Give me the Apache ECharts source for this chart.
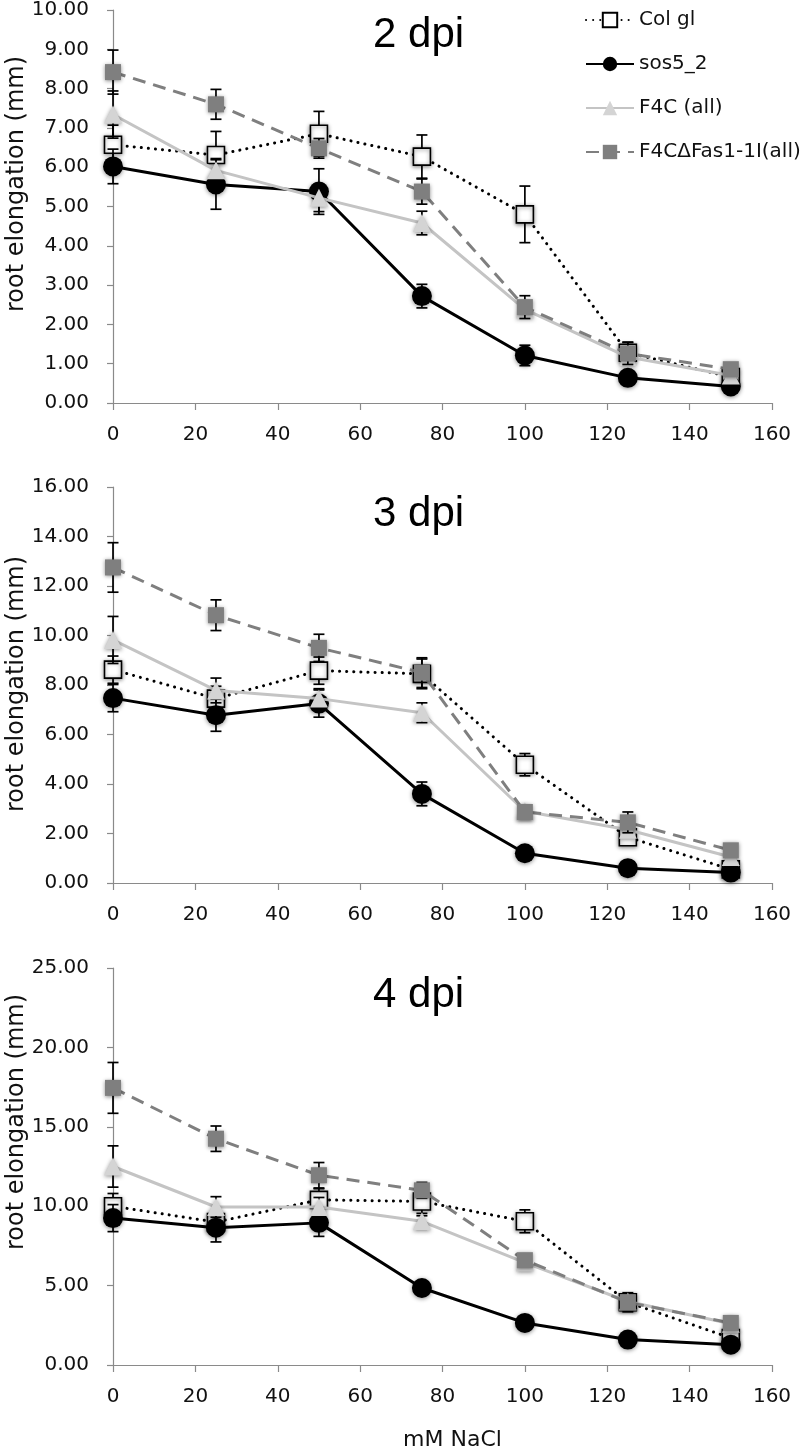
<!DOCTYPE html>
<html>
<head>
<meta charset="utf-8">
<script src="https://cdn.jsdelivr.net/npm/echarts@6/dist/echarts.min.js"></script>
<style>
html,body{margin:0;padding:0;background:#fff;}
#chart{width:800px;height:1453px;}
</style>
</head>
<body>
<div id="chart"></div>
<script>
// ---- data ----
const nacl = [0, 25, 50, 75, 100, 125, 150];
const seriesNames = ['Col gl', 'sos5_2', 'F4C (all)', 'F4C\u0394Fas1-1I(all)'];
const panelTitles = ['2 dpi', '3 dpi', '4 dpi'];
const yMax = [10, 16, 25];
const yStep = [1, 2, 5];

// 2 dpi
const col2 = [6.57, 6.31, 6.85, 6.27, 4.80, 1.28, 0.66];
const colErr2 = [0.50, 0.60, 0.57, 0.55, 0.72, 0.27, 0.10];
const sos2 = [6.02, 5.56, 5.38, 2.72, 1.21, 0.64, 0.42];
const sosErr2 = [0.44, 0.63, 0.58, 0.30, 0.26, 0.10, 0.08];
const f4c2 = [7.34, 5.92, 5.22, 4.58, 2.38, 1.17, 0.70];
const f4cErr2 = [0.60, 0.30, 0.35, 0.30, 0.20, 0.15, 0.10];
const fas2 = [8.42, 7.60, 6.48, 5.38, 2.44, 1.26, 0.86];
const fasErr2 = [0.56, 0.38, 0.25, 0.32, 0.29, 0.28, 0.10];

// 3 dpi
const col3 = [8.62, 7.45, 8.58, 8.45, 4.78, 1.85, 0.55];
const colErr3 = [0.55, 0.50, 0.55, 0.60, 0.45, 0.30, 0.10];
const sos3 = [7.47, 6.78, 7.25, 3.60, 1.20, 0.60, 0.42];
const sosErr3 = [0.55, 0.65, 0.55, 0.48, 0.15, 0.10, 0.08];
const f4c3 = [9.82, 7.78, 7.45, 6.88, 2.90, 2.15, 1.05];
const f4cErr3 = [0.95, 0.50, 0.40, 0.40, 0.20, 0.20, 0.15];
const fas3 = [12.75, 10.82, 9.50, 8.50, 2.87, 2.45, 1.32];
const fasErr3 = [1.00, 0.62, 0.55, 0.60, 0.20, 0.42, 0.15];

// 4 dpi
const col4 = [10.00, 9.00, 10.40, 10.30, 9.05, 3.95, 1.70];
const colErr4 = [0.80, 0.70, 0.70, 0.90, 0.72, 0.60, 0.20];
const sos4 = [9.25, 8.65, 8.95, 4.85, 2.65, 1.60, 1.28];
const sosErr4 = [0.85, 0.90, 0.85, 0.30, 0.20, 0.15, 0.10];
const f4c4 = [12.50, 9.95, 9.95, 9.05, 6.45, 4.00, 2.60];
const f4cErr4 = [1.30, 0.65, 0.60, 0.50, 0.40, 0.30, 0.20];
const fas4 = [17.45, 14.25, 11.95, 11.00, 6.60, 3.95, 2.65];
const fasErr4 = [1.60, 0.80, 0.80, 0.50, 0.40, 0.40, 0.20];

const panels = [
  [[col2, colErr2], [sos2, sosErr2], [f4c2, f4cErr2], [fas2, fasErr2]],
  [[col3, colErr3], [sos3, sosErr3], [f4c3, f4cErr3], [fas3, fasErr3]],
  [[col4, colErr4], [sos4, sosErr4], [f4c4, f4cErr4], [fas4, fasErr4]]
];

// ---- styles ----
const FONT = 'DejaVu Sans';
const styles = [
  { line: { color: '#000', width: 3, type: [0.1, 7], cap: 'round' }, symbol: 'rect', size: 17,
    item: { color: '#fff', borderColor: '#000', borderWidth: 1.6 } },
  { line: { color: '#000', width: 3, type: 'solid' }, symbol: 'circle', size: 20,
    item: { color: '#000', borderColor: '#000', borderWidth: 0 } },
  { line: { color: '#c4c4c4', width: 3, type: 'solid' }, symbol: 'triangle', size: 18,
    item: { color: '#d4d4d4', borderColor: '#c4c4c4', borderWidth: 0 } },
  { line: { color: '#7f7f7f', width: 3, type: [13, 8] }, symbol: 'rect', size: 16,
    item: { color: '#7f7f7f', borderColor: '#7f7f7f', borderWidth: 0 } }
];

const gridTops = [8, 487, 968];
const gridH = [395, 396, 397];

const grids = [], xAxes = [], yAxes = [], series = [], titles = [], graphics = [];
for (let p = 0; p < 3; p++) {
  grids.push({ left: 113, right: 28, top: gridTops[p], height: gridH[p] });
  xAxes.push({
    type: 'value', gridIndex: p, min: 0, max: 160, interval: 20,
    axisLine: { lineStyle: { color: '#8a8a8a', width: 1.2 } },
    axisTick: { show: true, length: 7, inside: false, lineStyle: { color: '#8a8a8a', width: 1.2 } },
    axisLabel: { color: '#111', fontSize: 20, fontFamily: FONT, margin: 22 },
    splitLine: { show: false },
    name: p === 2 ? 'mM NaCl' : '', nameLocation: 'middle', nameGap: 64,
    nameTextStyle: { color: '#111', fontSize: 22, fontFamily: FONT, padding: [0, 0, 0, 20] }
  });
  yAxes.push({
    type: 'value', gridIndex: p, min: 0, max: yMax[p], interval: yStep[p],
    axisLine: { show: true, lineStyle: { color: '#8a8a8a', width: 1.2 } },
    axisTick: { show: true, length: 6, lineStyle: { color: '#8a8a8a', width: 1.2 } },
    axisLabel: { color: '#111', fontSize: 20, fontFamily: FONT, margin: 24, formatter: v => v.toFixed(2) },
    splitLine: { show: false }
  });
  titles.push({ text: panelTitles[p], left: 368, top: gridTops[p] + 1,
    textStyle: { fontSize: 42, fontWeight: 'normal', color: '#000', fontFamily: 'Liberation Sans' } });
  const yc = [184, 684, 1122][p];
  graphics.push({ type: 'text', x: 5, y: yc, rotation: Math.PI / 2,
    style: { text: 'root elongation (mm)', font: '24px "DejaVu Sans"', fill: '#111', textAlign: 'center', textVerticalAlign: 'top' } });

  panels[p].forEach((pair, s) => {
    const vals = pair[0], errs = pair[1];
    const st = styles[s];
    series.push({
      type: 'custom', name: 'err' + p + '_' + s, xAxisIndex: p, yAxisIndex: p, z: 2 + s * 2,
      silent: true,
      data: nacl.map((x, i) => [x, vals[i] - errs[i], vals[i] + errs[i]]),
      encode: { x: 0, y: [1, 2] },
      renderItem: function (params, api) {
        const a = api.coord([api.value(0), api.value(1)]);
        const b = api.coord([api.value(0), api.value(2)]);
        const w = 5.5;
        const sty = { stroke: '#000', lineWidth: 1.7 };
        return { type: 'group', children: [
          { type: 'line', shape: { x1: a[0], y1: a[1], x2: b[0], y2: b[1] }, style: sty },
          { type: 'line', shape: { x1: a[0] - w, y1: a[1], x2: a[0] + w, y2: a[1] }, style: sty },
          { type: 'line', shape: { x1: b[0] - w, y1: b[1], x2: b[0] + w, y2: b[1] }, style: sty }
        ] };
      }
    });
    series.push({
      type: 'line', name: seriesNames[s], xAxisIndex: p, yAxisIndex: p, z: 3 + s * 2,
      data: nacl.map((x, i) => [x, vals[i]]),
      symbol: st.symbol, symbolSize: st.size, showSymbol: true,
      lineStyle: st.line,
      itemStyle: Object.assign({ shadowBlur: 4, shadowColor: 'rgba(0,0,0,0.45)', shadowOffsetY: 1 }, st.item),
      emphasis: { disabled: true },
      animation: false
    });
  });
}

const chart = echarts.init(document.getElementById('chart'));
chart.setOption({
  animation: false,
  backgroundColor: '#fff',
  title: titles,
  grid: grids,
  xAxis: xAxes,
  yAxis: yAxes,
  legend: {
    data: seriesNames, orient: 'vertical', left: 580, top: 5,
    itemWidth: 48, itemHeight: 18, itemGap: 24,
    textStyle: { fontSize: 20, fontFamily: FONT, color: '#111' }
  },
  graphic: graphics,
  series: series
});
</script>
</body>
</html>
